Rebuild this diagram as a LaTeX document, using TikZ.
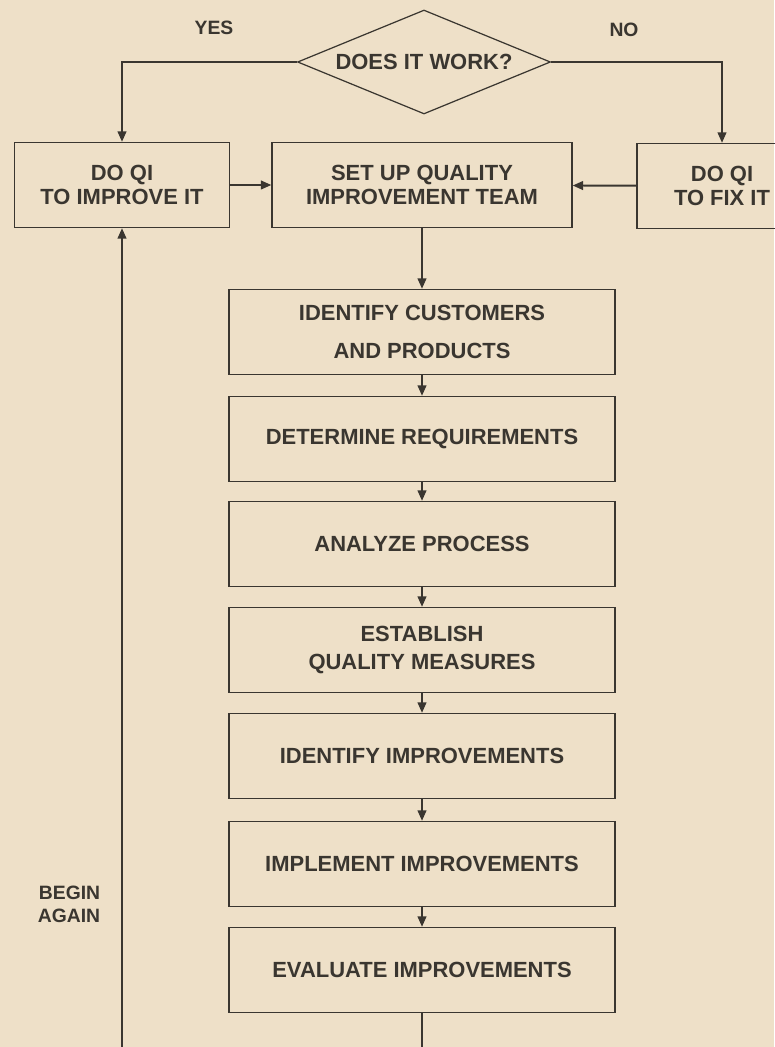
\documentclass[tikz,border=0pt]{standalone}
\usepackage{fontspec}
\setmainfont{Liberation Sans}
\usetikzlibrary{shapes.geometric,arrows.meta}
\definecolor{paper}{HTML}{EEE0C8}
\definecolor{ink}{HTML}{3A3630}
\begin{document}
\begin{tikzpicture}[x=0.02cm, y=-0.02cm, line width=1.1pt, draw=ink, text=ink, font=\fontsize{12.5}{14}\selectfont\bfseries,
box node/.style={rectangle, draw=ink, line width=0.8pt, minimum width=7.72cm, minimum height=1.7cm, align=center, inner sep=0pt},
decision node/.style={diamond, aspect=2.43, draw=ink, line width=0.7pt, minimum width=5.06cm, minimum height=2.08cm, inner sep=0pt},
label node/.style={align=center, inner sep=0pt, font=\fontsize{11}{13}\selectfont\bfseries}]%
\fill[paper] (0,0) rectangle (774,1047);
\useasboundingbox (0,0) rectangle (774,1047);
\begin{scope}
\node[decision node] (q) at (424,62) {DOES IT WORK?};
\node[label node] (yes) at (214,28) {YES};
\node[label node] (no) at (624,30) {NO};
\node[box node, minimum width=4.3cm] (improve) at (122,185) {DO QI\\TO IMPROVE IT};
\node[box node, minimum width=6cm] (team) at (422,185) {SET UP QUALITY\\IMPROVEMENT TEAM};
\node[box node, minimum width=3.4cm] (fix) at (722,186) {DO QI\\TO FIX IT};
\node[box node] (cust) at (422,332) {IDENTIFY CUSTOMERS\\[8pt]AND PRODUCTS};
\node[box node] (req) at (422,439) {DETERMINE REQUIREMENTS};
\node[box node] (proc) at (422,544) {ANALYZE PROCESS};
\node[box node] (meas) at (422,650) {ESTABLISH\\[2pt]QUALITY MEASURES};
\node[box node] (ident) at (422,756) {IDENTIFY IMPROVEMENTS};
\node[box node] (impl) at (422,864) {IMPLEMENT IMPROVEMENTS};
\node[box node] (eval) at (422,970) {EVALUATE IMPROVEMENTS};
\node[label node, align=right] (again) at (69,904) {BEGIN\\AGAIN};
\coordinate (out) at (422,1047);
\coordinate (back) at (122,1047);
\end{scope}
\begin{scope}[every edge/.style={draw=ink, line width=1.1pt, -{Triangle[length=6pt,width=5pt]}}]
\draw[-{Triangle[length=6pt,width=5pt]}] (q.west) -| (improve.north);
\draw[-{Triangle[length=6pt,width=5pt]}] (q.east) -| (fix.north);
\draw (improve) edge (team);
\draw (fix) edge (team);
\draw (team) edge (cust);
\draw (cust) edge (req);
\draw (req) edge (proc);
\draw (proc) edge (meas);
\draw (meas) edge (ident);
\draw (ident) edge (impl);
\draw (impl) edge (eval);
\draw (eval) -- (out);
\draw (back) edge (improve);
\end{scope}
\end{tikzpicture}
\end{document}
